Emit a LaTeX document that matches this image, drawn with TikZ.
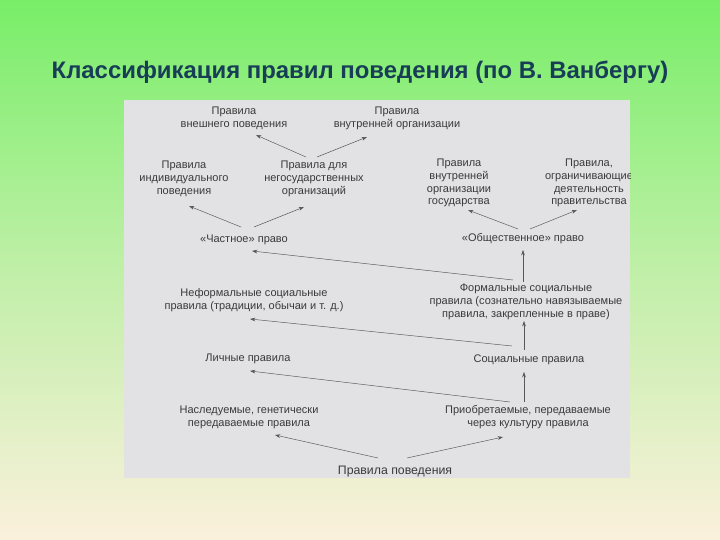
\documentclass[tikz,border=0pt]{standalone}
\usepackage{fontspec}
\setmainfont{Liberation Sans}
\usetikzlibrary{arrows.meta,positioning,calc}
\definecolor{bggreen}{HTML}{78EE68}
\definecolor{bgcream}{HTML}{FBF0DC}
\definecolor{panel}{HTML}{E2E2E4}
\definecolor{titlecol}{HTML}{173D57}
\definecolor{ink}{HTML}{3A3A3A}

\begin{document}
\begin{tikzpicture}[x=0.03cm, y=-0.03cm,
  lbl/.style={align=center, inner sep=1pt, text=ink, font=\fontsize{9.4}{11}\selectfont},
  arr/.style={-{Stealth[length=1.6mm, width=1.1mm]}, thin, ink!85}
]
  % background and panel
  \shade[top color=bggreen, bottom color=bgcream, middle color=bggreen!45!bgcream] (0,0) rectangle (720,540);
  \useasboundingbox (0,0) rectangle (720,540);
  \node[font=\fontsize{20.4}{24}\selectfont\bfseries, text=titlecol] (title) at (360,72) {Классификация правил поведения (по В. Ванбергу)};
  \fill[panel] (124,100) rectangle (630,478);
  \begin{scope}
  \clip (124,100) rectangle (630,478);

  % top level
  \node[lbl] (ext) at (234,118) {Правила\\внешнего поведения};
  \node[lbl] (intorg) at (397,118) {Правила\\внутренней организации};
  \node[lbl] (indiv) at (184,179) {Правила\\индивидуального\\поведения};
  \node[lbl] (nongov) at (314,179) {Правила для\\негосударственных\\организаций};
  \node[lbl] (stateorg) at (459,183) {Правила\\внутренней\\организации\\государства};
  \node[lbl] (govlim) at (589,183) {Правила,\\ограничивающие\\деятельность\\правительства};

  % law
  \node[lbl] (private) at (244,240) {«Частное» право};
  \node[lbl] (public) at (523,239) {«Общественное» право};

  % social rules
  \node[lbl] (informal) at (254,300) {Неформальные социальные\\правила (традиции, обычаи и т. д.)};
  \node[lbl] (formal) at (526,302) {Формальные социальные\\правила (сознательно навязываемые\\правила, закрепленные в праве)};
  \node[lbl] (personal) at (248,359) {Личные правила};
  \node[lbl] (social) at (529,360) {Социальные правила};
  \node[lbl] (inherited) at (249,417) {Наследуемые, генетически\\передаваемые правила};
  \node[lbl] (acquired) at (528,417) {Приобретаемые, передаваемые\\через культуру правила};
  \node[lbl, font=\fontsize{10.5}{12}\selectfont] (root) at (395,472) {Правила поведения};

  \draw[arr] ($(root)+(-17,-14)$) -- ($(inherited)+(26,18)$);
  \draw[arr] ($(root)+(12,-14)$) -- ($(acquired)+(-25,20)$);
  \draw[arr] ($(acquired)+(-18,-15)$) -- ($(personal)+(2,12)$);
  \draw[arr] ($(acquired)+(-4,-15)$) -- ($(social)+(-5,12)$);
  \draw[arr] ($(social)+(-17,-14)$) -- ($(informal)+(-4,19)$);
  \draw[arr] ($(social)+(-5,-10)$) -- ($(formal)+(-2,19)$);
  \draw[arr] ($(formal)+(-13,-22)$) -- ($(private)+(8,11)$);
  \draw[arr] ($(formal)+(-3,-20)$) -- ($(public)+(0,11)$);

  \draw[arr] ($(private)+(-3,-13)$) -- ($(indiv)+(5,27)$);
  \draw[arr] ($(private)+(10,-13)$) -- ($(nongov)+(-10,28)$);
  \draw[arr] ($(public)+(-5,-10)$) -- ($(stateorg)+(9,27)$);
  \draw[arr] ($(public)+(7,-10)$) -- ($(govlim)+(-12,27)$);
  \draw[arr] ($(nongov)+(-8,-22)$) -- ($(ext)+(22,17)$);
  \draw[arr] ($(nongov)+(3,-22)$) -- ($(intorg)+(-30,19)$);
  \end{scope}
\end{tikzpicture}
\end{document}
